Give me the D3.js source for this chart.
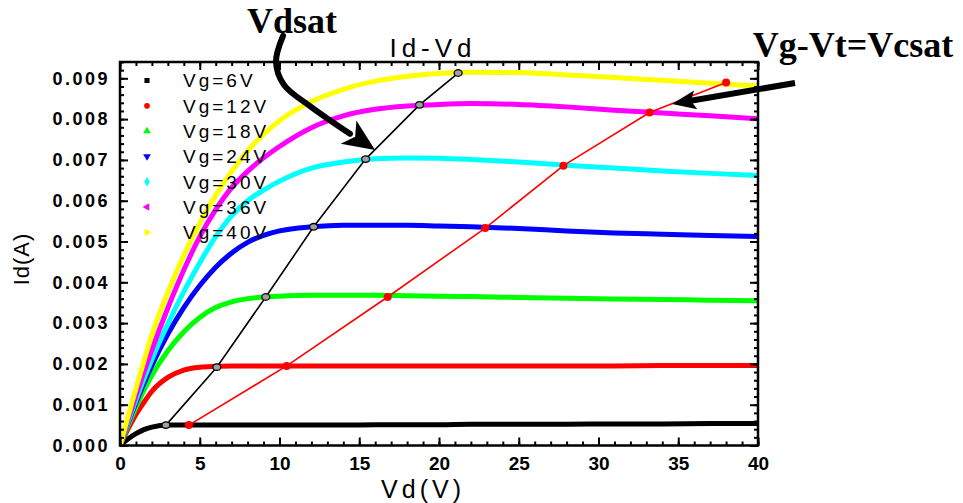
<!DOCTYPE html>
<html>
<head>
<meta charset="utf-8">
<script src="https://cdn.jsdelivr.net/npm/d3@7"></script>
<style>
  html, body { margin: 0; padding: 0; background: #fff; }
  svg { display: block; }
  text { font-family: "Liberation Sans", Arial, sans-serif; fill: #000; }
</style>
</head>
<body>
<svg id="chart" width="963" height="503"></svg>
<script>
// Drain voltage sample points (V)
const vd = [0, 0.5, 1, 1.5, 2, 3, 4, 5, 6, 7, 8, 9, 10, 12, 14, 16, 18, 20, 22, 25, 28, 31, 34, 37, 40];

// Drain current (A) for each gate voltage
const id6  = [0, 0.00016, 0.00029, 0.00039, 0.00045, 0.00050, 0.00050, 0.00050, 0.00050, 0.00050, 0.00050, 0.00050, 0.00050, 0.00050, 0.00050, 0.00051, 0.00051, 0.00051, 0.00052, 0.00052, 0.00052, 0.00053, 0.00053, 0.00054, 0.00054];
const id12 = [0, 0.00040, 0.00076, 0.00106, 0.00133, 0.00167, 0.00185, 0.00192, 0.00194, 0.00195, 0.00195, 0.00195, 0.00195, 0.00195, 0.00195, 0.00195, 0.00195, 0.00195, 0.00195, 0.00195, 0.00195, 0.00195, 0.00196, 0.00196, 0.00196];
const id18 = [0, 0.00048, 0.00093, 0.00135, 0.00172, 0.00232, 0.00279, 0.00314, 0.00338, 0.00352, 0.00360, 0.00364, 0.00366, 0.00368, 0.00368, 0.00368, 0.00367, 0.00366, 0.00365, 0.00363, 0.00361, 0.00359, 0.00358, 0.00356, 0.00355];
const id24 = [0, 0.00054, 0.00105, 0.00152, 0.00196, 0.00273, 0.00338, 0.00392, 0.00437, 0.00472, 0.00498, 0.00515, 0.00526, 0.00536, 0.00540, 0.00540, 0.00540, 0.00538, 0.00536, 0.00532, 0.00526, 0.00521, 0.00518, 0.00515, 0.00512];
const id30 = [0, 0.00057, 0.00112, 0.00163, 0.00211, 0.00298, 0.00377, 0.00448, 0.00512, 0.00563, 0.00600, 0.00626, 0.00648, 0.00680, 0.00695, 0.00703, 0.00705, 0.00704, 0.00701, 0.00695, 0.00687, 0.00680, 0.00673, 0.00667, 0.00662];
const id36 = [0, 0.00062, 0.00122, 0.00180, 0.00235, 0.00337, 0.00430, 0.00512, 0.00578, 0.00632, 0.00672, 0.00705, 0.00733, 0.00779, 0.00808, 0.00824, 0.00832, 0.00836, 0.00838, 0.00836, 0.00830, 0.00822, 0.00815, 0.00808, 0.00801];
const id40 = [0, 0.00071, 0.00140, 0.00207, 0.00272, 0.00375, 0.00466, 0.00545, 0.00613, 0.00672, 0.00722, 0.00763, 0.00796, 0.00843, 0.00873, 0.00893, 0.00905, 0.00912, 0.00915, 0.00914, 0.00908, 0.00902, 0.00895, 0.00888, 0.00881];

const seriesNames  = ["Vg=6V", "Vg=12V", "Vg=18V", "Vg=24V", "Vg=30V", "Vg=36V", "Vg=40V"];
const seriesColors = ["#000000", "#ff0000", "#00ff00", "#0000ff", "#00ffff", "#ff00ff", "#ffff00"];
const seriesSymbols = ["square", "circle", "up", "down", "diamond", "left", "right"];
const seriesValues = [id6, id12, id18, id24, id30, id36, id40];

// Saturation points: Vdsat (black) and Vg-Vt (red)
const vdsatV = [2.88, 6.07, 9.14, 12.14, 15.40, 18.78, 21.20];
const vdsatI = [0.00050, 0.00192, 0.00364, 0.00536, 0.00702, 0.00835, 0.00913];
const vcsatV = [4.32, 10.45, 16.78, 22.90, 27.80, 33.20, 38.00];
const vcsatI = [0.00050, 0.00195, 0.00364, 0.00533, 0.00686, 0.00816, 0.00890];

// Axis ticks
const xTicks = [0, 5, 10, 15, 20, 25, 30, 35, 40];
const yTicks = [0, 0.001, 0.002, 0.003, 0.004, 0.005, 0.006, 0.007, 0.008, 0.009];

const svg = d3.select("#chart");
const plotL = 120, plotR = 758, plotT = 62, plotB = 445.5;

const x = d3.scaleLinear().domain([0, 40]).range([plotL, plotR]);
const y = d3.scaleLinear().domain([0, 0.0094]).range([plotB, plotT]);

svg.append("clipPath").attr("id", "plotclip")
  .append("rect").attr("x", plotL).attr("y", plotT).attr("width", plotR - plotL).attr("height", plotB - plotT);

// Curves
const line = d3.line().x(d => x(d[0])).y(d => y(d[1])).curve(d3.curveMonotoneX);
const curves = svg.append("g").attr("clip-path", "url(#plotclip)");
seriesValues.forEach((vals, i) => {
  curves.append("path")
    .datum(vd.map((v, k) => [v, vals[k]]))
    .attr("d", line)
    .attr("fill", "none")
    .attr("stroke", seriesColors[i])
    .attr("stroke-width", 5)
    .attr("stroke-linejoin", "round");
});

// Vg-Vt saturation line (red)
const straight = d3.line().x(d => x(d[0])).y(d => y(d[1]));
const vcPts = vcsatV.map((v, i) => [v, vcsatI[i]]);
svg.append("path").datum(vcPts).attr("d", straight)
  .attr("fill", "none").attr("stroke", "#ff0000").attr("stroke-width", 1.6);
svg.append("g").selectAll("circle").data(vcPts).join("circle")
  .attr("cx", d => x(d[0])).attr("cy", d => y(d[1])).attr("r", 4)
  .attr("fill", "#ff0000");

// Vdsat line (black)
const vdPts = vdsatV.map((v, i) => [v, vdsatI[i]]);
svg.append("path").datum(vdPts).attr("d", straight)
  .attr("fill", "none").attr("stroke", "#000").attr("stroke-width", 1.6);
svg.append("g").selectAll("ellipse").data(vdPts).join("ellipse")
  .attr("cx", d => x(d[0])).attr("cy", d => y(d[1])).attr("rx", 4).attr("ry", 3.3)
  .attr("fill", "#a0a0a0").attr("stroke", "#000").attr("stroke-width", 1.3);

// Axes with inward ticks on all four sides
const xMinor = d3.range(0, 41, 1);
const yMinor = d3.range(0, 0.00941, 0.0002);
const axisDefs = [
  [() => d3.axisBottom(x), `translate(0,${plotB})`, xMinor, xTicks],
  [() => d3.axisTop(x), `translate(0,${plotT})`, xMinor, xTicks],
  [() => d3.axisLeft(y), `translate(${plotL},0)`, yMinor, yTicks],
  [() => d3.axisRight(y), `translate(${plotR},0)`, yMinor, yTicks]
];
axisDefs.forEach(([make, tr, minor, major]) => {
  [[minor, -4], [major, -8]].forEach(([vals, size]) => {
    const g = svg.append("g").attr("transform", tr)
      .call(make().tickValues(vals).tickFormat("").tickSizeInner(size).tickSizeOuter(0));
    g.select(".domain").remove();
    g.selectAll("line").attr("stroke", "#000").attr("stroke-width", 2);
  });
});

// Tick labels
const xLab = svg.append("g").attr("transform", `translate(0,${plotB})`)
  .call(d3.axisBottom(x).tickValues(xTicks).tickFormat(d3.format("d")).tickSize(0).tickPadding(11));
xLab.select(".domain").remove();
xLab.selectAll("text").style("font-family", "'Liberation Sans', Arial, sans-serif")
  .style("font-weight", "bold").style("font-size", "19px").attr("fill", "#000");

const yLab = svg.append("g").attr("transform", `translate(${plotL},0)`)
  .call(d3.axisLeft(y).tickValues(yTicks).tickFormat(d3.format(".3f")).tickSize(0).tickPadding(10));
yLab.select(".domain").remove();
yLab.selectAll("text").style("font-family", "'Liberation Sans', Arial, sans-serif")
  .style("font-weight", "bold").style("font-size", "18px").style("letter-spacing", "2.5px").attr("fill", "#000");

// Frame
svg.append("rect").attr("x", plotL).attr("y", plotT).attr("width", plotR - plotL).attr("height", plotB - plotT)
  .attr("fill", "none").attr("stroke", "#000").attr("stroke-width", 2.5);

// Titles
svg.append("text").attr("x", 433).attr("y", 57).attr("text-anchor", "middle")
  .style("font-size", "26px").style("letter-spacing", "5px").text("Id-Vd");
svg.append("text").attr("x", 423).attr("y", 498).attr("text-anchor", "middle")
  .style("font-size", "25px").style("letter-spacing", "4px").text("Vd(V)");
svg.append("text").attr("transform", "translate(29,259) rotate(-90)").attr("text-anchor", "middle")
  .style("font-size", "22px").style("letter-spacing", "1px").text("Id(A)");

// Legend
const symType = {
  square: d3.symbolSquare, circle: d3.symbolCircle, up: d3.symbolTriangle,
  down: d3.symbolTriangle, diamond: d3.symbolDiamond, left: d3.symbolTriangle, right: d3.symbolTriangle
};
const symRot = { up: 0, down: 180, left: -90, right: 90, square: 0, circle: 0, diamond: 0 };
const legend = svg.append("g");
seriesNames.forEach((name, i) => {
  const ly = 80.5 + i * 25.3;
  legend.append("path")
    .attr("d", d3.symbol().type(symType[seriesSymbols[i]]).size(26)())
    .attr("transform", `translate(147,${ly}) rotate(${symRot[seriesSymbols[i]]})`)
    .attr("fill", seriesColors[i]);
  legend.append("text").attr("x", 183).attr("y", ly).attr("dy", "0.36em")
    .style("font-size", "19px").style("letter-spacing", "3px").text(name);
});

// Annotation arrows (anchored in data coordinates)
const px = d => [x(d[0]), y(d[1])];
function barbedHead(g, tipPt, fromPt, len, half, notch) {
  const [tx, ty] = tipPt, [fx, fy] = fromPt;
  const dx = tx - fx, dy = ty - fy, L = Math.hypot(dx, dy);
  const ux = dx / L, uy = dy / L, nx = -uy, ny = ux;
  const bx = tx - ux * len, by = ty - uy * len;
  const p = d3.path();
  p.moveTo(tx, ty);
  p.lineTo(bx + nx * half, by + ny * half);
  p.lineTo(tx - ux * (len - notch), ty - uy * (len - notch));
  p.lineTo(bx - nx * half, by - ny * half);
  p.closePath();
  g.append("path").attr("d", p.toString()).attr("fill", "#000");
}

// Vdsat arrow
const vdsatArrow = [[10.22, 0.01004], [9.78, 0.00940], [10.28, 0.00884], [11.91, 0.00832], [14.42, 0.00764]];
const vdsatTip = [15.99, 0.00724];
const ann = svg.append("g");
ann.append("path").datum(vdsatArrow.map(px))
  .attr("d", d3.line().curve(d3.curveCatmullRom))
  .attr("fill", "none").attr("stroke", "#000").attr("stroke-width", 6).attr("stroke-linecap", "round");
barbedHead(ann, px(vdsatTip), px(vdsatArrow[3]), 32, 14, 8);

// Vg-Vt arrow
const vcStart = [42.32, 0.008885];
const vcTip = [34.61, 0.00837];
const tipP = px(vcTip), startP = px(vcStart);
{
  const dx = tipP[0] - startP[0], dy = tipP[1] - startP[1], L = Math.hypot(dx, dy);
  const endP = [tipP[0] - dx / L * 16, tipP[1] - dy / L * 16];
  ann.append("line").attr("x1", startP[0]).attr("y1", startP[1]).attr("x2", endP[0]).attr("y2", endP[1])
    .attr("stroke", "#000").attr("stroke-width", 6);
  barbedHead(ann, tipP, startP, 24, 9.5, 5);
}

// Annotation labels
svg.append("text").attr("x", 292).attr("y", 33).attr("text-anchor", "middle")
  .style("font-family", "'Liberation Serif', 'Times New Roman', serif").style("font-weight", "bold")
  .style("font-size", "36px").text("Vdsat");
svg.append("text").attr("x", 853).attr("y", 57).attr("text-anchor", "middle")
  .style("font-family", "'Liberation Serif', 'Times New Roman', serif").style("font-weight", "bold")
  .style("font-size", "36px").text("Vg-Vt=Vcsat");
</script>
</body>
</html>
